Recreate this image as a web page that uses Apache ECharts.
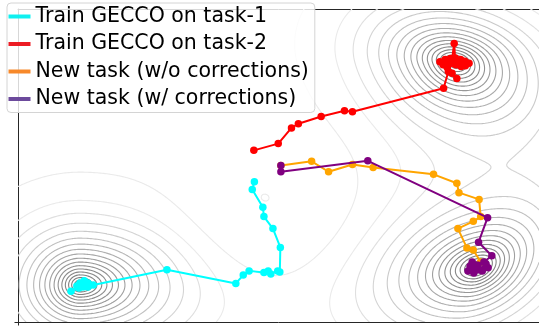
<!DOCTYPE html>
<html>
<head>
<meta charset="utf-8">
<script src="https://cdn.jsdelivr.net/npm/echarts@6/dist/echarts.min.js"></script>
<style>
  html, body { margin: 0; padding: 0; background: #ffffff; }
  #chart { width: 539px; height: 326px; }
</style>
</head>
<body>
<div id="chart"></div>
<script>
// ---- legend labels ----
const seriesNames = [
  'Train GECCO on task-1',
  'Train GECCO on task-2',
  'New task (w/o corrections)',
  'New task (w/ corrections)'
];

// ---- optimisation trajectories, [x, y] in landscape coordinates ----
const task1Path = [
  [4.46, 2.69], [4.42, 2.54], [4.62, 2.20], [4.64, 2.02], [4.81, 1.79], [4.95, 1.43],
  [4.94, 0.96], [4.90, 0.98], [4.77, 0.92], [4.72, 0.98], [4.64, 0.95], [4.36, 0.98],
  [4.25, 0.90], [4.11, 0.74], [2.81, 1.00], [1.42, 0.71], [1.32, 0.75], [1.25, 0.79],
  [1.17, 0.75], [1.11, 0.69], [1.23, 0.67], [1.32, 0.67], [1.15, 0.65], [1.00, 0.59],
  [1.21, 0.71], [1.26, 0.73]
];
const task2Path = [
  [4.45, 3.29], [4.91, 3.42], [5.16, 3.72], [5.29, 3.80], [5.72, 3.94], [6.16, 4.05],
  [6.31, 4.03], [8.03, 4.48], [8.12, 4.80], [8.28, 4.67], [8.19, 4.77], [8.10, 4.88],
  [8.02, 4.93], [7.96, 4.99], [8.06, 5.03], [8.16, 5.05], [8.25, 5.06], [8.35, 5.03],
  [8.43, 5.00], [8.51, 4.96], [8.44, 4.91], [8.36, 4.90], [8.26, 4.93], [8.18, 4.96],
  [8.23, 5.34], [8.25, 5.00], [8.12, 4.98], [8.30, 4.97], [8.40, 4.96], [8.22, 5.02]
];
const newTaskNoCorrPath = [
  [4.96, 3.00], [5.54, 3.08], [5.86, 2.88], [6.31, 3.02], [6.70, 2.96], [7.84, 2.83],
  [8.28, 2.66], [8.32, 2.48], [8.70, 2.35], [8.73, 2.02], [8.59, 1.93], [8.30, 1.79],
  [8.47, 1.42], [8.59, 1.38], [8.73, 1.15], [8.64, 1.05]
];
const newTaskCorrPath = [
  [4.96, 3.00], [4.96, 2.88], [6.60, 3.09], [8.86, 2.00], [8.69, 1.53], [8.94, 1.27],
  [8.79, 1.15], [8.68, 1.09], [8.53, 1.07], [8.49, 0.98], [8.60, 0.94], [8.76, 0.98],
  [8.87, 1.04], [8.64, 1.02], [8.57, 1.15], [8.83, 1.11], [8.70, 1.00], [8.55, 1.02]
];

// ---- loss landscape: three basins and a low central ridge ----
const wellCenters = [[1.17, 0.71], [8.245, 4.98], [8.68, 1.05]];
const wellDepths  = [1.0, 1.0, 1.0];
// [left, right, below, above] length scales
const wellScales  = [[0.95, 1.4, 0.8, 0.85], [1.15, 1.2, 1.0, 0.8], [1.3, 1.0, 0.9, 0.9]];
const wellSkews   = [0.0, 0.3, -0.4];
const hillCenters = [[4.66, 2.1]];
const hillHeights = [0.12];
const hillScales  = [[1.6, 1.3]];
// basin levels (dark to light) followed by the faint background levels
const basinLevels = [-0.95, -0.9, -0.85, -0.8, -0.75, -0.7, -0.65, -0.6, -0.55, -0.5,
                     -0.45, -0.4, -0.35, -0.3, -0.25, -0.2, -0.15];
const faintLevels = [-0.08, 0.04];

const X_MIN = 0, X_MAX = 521 / 53, Y_MIN = 0, Y_MAX = 6;

function landscape(x, y) {
  let v = 0;
  for (let i = 0; i < wellCenters.length; i++) {
    const dy = y - wellCenters[i][1];
    const dx = (x - wellCenters[i][0]) + wellSkews[i] * dy;
    const s = wellScales[i];
    const sx = dx < 0 ? s[0] : s[1];
    const sy = dy < 0 ? s[2] : s[3];
    const d = Math.sqrt((dx / sx) * (dx / sx) + (dy / sy) * (dy / sy));
    v -= wellDepths[i] * Math.exp(-d);
  }
  for (let i = 0; i < hillCenters.length; i++) {
    const dx = (x - hillCenters[i][0]) / hillScales[i][0];
    const dy = (y - hillCenters[i][1]) / hillScales[i][1];
    v += hillHeights[i] * Math.exp(-(dx * dx + dy * dy));
  }
  return v;
}

// sample the landscape on a regular grid
const NX = 330, NY = 200;
const hx = (X_MAX - X_MIN) / (NX - 1), hy = (Y_MAX - Y_MIN) / (NY - 1);
const grid = new Float64Array(NX * NY);
for (let j = 0; j < NY; j++) {
  for (let i = 0; i < NX; i++) grid[j * NX + i] = landscape(X_MIN + i * hx, Y_MIN + j * hy);
}

// marching squares: edge pairs per cell case (edges: 0 bottom, 1 right, 2 top, 3 left)
const CASES = [
  [], [[0, 3]], [[0, 1]], [[1, 3]], [[1, 2]], [[0, 3], [1, 2]], [[0, 2]], [[2, 3]],
  [[2, 3]], [[0, 2]], [[0, 1], [2, 3]], [[1, 2]], [[1, 3]], [[0, 1]], [[0, 3]], []
];
function isoSegments(level) {
  const segs = [];
  for (let j = 0; j < NY - 1; j++) {
    for (let i = 0; i < NX - 1; i++) {
      const a = grid[j * NX + i], b = grid[j * NX + i + 1];
      const c = grid[(j + 1) * NX + i + 1], d = grid[(j + 1) * NX + i];
      const idx = (a > level ? 1 : 0) | (b > level ? 2 : 0) | (c > level ? 4 : 0) | (d > level ? 8 : 0);
      if (idx === 0 || idx === 15) continue;
      const x0 = X_MIN + i * hx, y0 = Y_MIN + j * hy;
      const edgePoint = (e) => {
        if (e === 0) return [x0 + hx * (level - a) / (b - a), y0];
        if (e === 1) return [x0 + hx, y0 + hy * (level - b) / (c - b)];
        if (e === 2) return [x0 + hx * (level - d) / (c - d), y0 + hy];
        return [x0, y0 + hy * (level - a) / (d - a)];
      };
      for (const pr of CASES[idx]) {
        const p = edgePoint(pr[0]), q = edgePoint(pr[1]);
        segs.push(p[0], p[1], q[0], q[1]);
      }
    }
  }
  return segs;
}

const contourLevels = basinLevels.concat(faintLevels);
const contourSegs = contourLevels.map(isoSegments);

function levelColor(k) {
  let g;
  if (k >= basinLevels.length) {
    g = 234;
  } else {
    const t = k / (basinLevels.length - 1);
    g = Math.round(122 + 112 * Math.pow(t, 1.6));
  }
  return 'rgb(' + g + ',' + g + ',' + g + ')';
}

const lineColors   = ['#00ffff', '#ff0000', '#ffa500', '#800080'];
const legendColors = ['#10f0f0', '#ec1c24', '#f7892a', '#6c4a9c'];
const paths = [task1Path, task2Path, newTaskNoCorrPath, newTaskCorrPath];

const chart = echarts.init(document.getElementById('chart'), null, { renderer: 'canvas' });

const spine = { show: true, lineStyle: { color: '#262626', width: 1 } };

const option = {
  animation: false,
  backgroundColor: '#ffffff',
  grid: { left: 18, top: 9, right: 0, bottom: 4, show: false },
  xAxis: [
    {
      type: 'value', position: 'bottom', min: X_MIN, max: X_MAX,
      axisLine: spine,
      axisTick: { show: true, length: 3.5, customValues: [X_MIN], lineStyle: { color: '#262626', width: 1 } },
      axisLabel: { show: false }, splitLine: { show: false }
    },
    {
      type: 'value', position: 'top', min: X_MIN, max: X_MAX,
      axisLine: spine, axisTick: { show: false },
      axisLabel: { show: false }, splitLine: { show: false }
    }
  ],
  yAxis: {
    type: 'value', min: Y_MIN, max: Y_MAX,
    axisLine: spine,
    axisTick: { show: true, length: 3.5, customValues: [Y_MIN], lineStyle: { color: '#262626', width: 1 } },
    axisLabel: { show: false }, splitLine: { show: false }
  },
  legend: {
    orient: 'vertical',
    left: 7, top: 3,
    icon: 'rect',
    itemWidth: 22, itemHeight: 4, itemGap: 6.5,
    padding: [3, 6, 3, 1.5],
    backgroundColor: 'rgba(255,255,255,0.82)',
    borderColor: '#d4d4d4', borderWidth: 1, borderRadius: 4,
    textStyle: { fontFamily: 'DejaVu Sans', fontSize: 20.5, lineHeight: 20, color: '#000000' },
    selectedMode: false,
    data: seriesNames.map((n, i) => ({ name: n, itemStyle: { color: legendColors[i] } }))
  },
  series: [
    {
      type: 'custom',
      name: 'landscape',
      silent: true,
      clip: true,
      z: 1,
      data: contourLevels.map((lv, i) => [5, 3, i]),
      renderItem: function (params, api) {
        const k = params.dataIndex;
        const segs = contourSegs[k];
        let d = '';
        for (let s = 0; s < segs.length; s += 4) {
          const p = api.coord([segs[s], segs[s + 1]]);
          const q = api.coord([segs[s + 2], segs[s + 3]]);
          d += 'M' + p[0].toFixed(2) + ' ' + p[1].toFixed(2) + 'L' + q[0].toFixed(2) + ' ' + q[1].toFixed(2);
        }
        return {
          type: 'path',
          shape: { pathData: d },
          style: { fill: null, stroke: levelColor(k), lineWidth: 1.1, lineCap: 'round' }
        };
      }
    }
  ].concat(paths.map((p, i) => ({
    type: 'line',
    name: seriesNames[i],
    data: p,
    z: 3 + i,
    symbol: 'circle',
    symbolSize: 7.5,
    showSymbol: true,
    lineStyle: { color: lineColors[i], width: 2 },
    itemStyle: { color: lineColors[i] },
    emphasis: { disabled: true }
  })))
};

chart.setOption(option);
</script>
</body>
</html>
